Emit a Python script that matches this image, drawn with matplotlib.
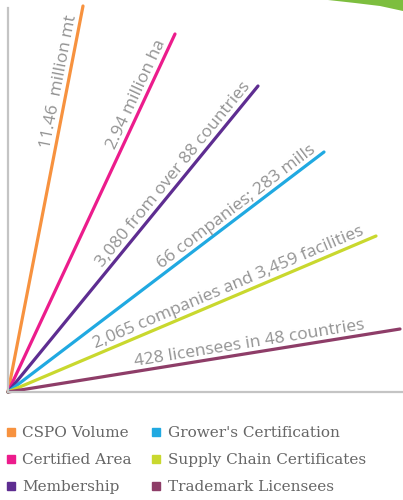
import numpy as np
import matplotlib
matplotlib.use("Agg")
from matplotlib import pyplot as plt
from matplotlib.lines import Line2D
from matplotlib.patches import Polygon

# series: name, colour, end point of each ray (pixel-like units from origin), annotation
names = ["CSPO Volume", "Certified Area", "Membership",
         "Grower's Certification", "Supply Chain Certificates", "Trademark Licensees"]
colors = ["#F7923F", "#EC1C8C", "#5E2D91", "#20A9E1", "#C9D82E", "#8E3D68"]
end_x = [75, 167, 250, 316, 368, 392]
end_y = [386, 358, 306, 240, 156, 63]
notes = ["11.46  million mt", "2.94 million ha", "3,080 from over 88 countries",
         "66 companies; 283 mills", "2,065 companies and 3,459 facilities",
         "428 licensees in 48 countries"]
note_pos = [0.80, 0.82, 0.69, 0.74, 0.61, 0.62]

W, H = 403, 500
fig = plt.figure(figsize=(W / 100, H / 100), dpi=100)
# axes placed so one data unit is one pixel
x0, y0 = 8, 392
ax = fig.add_axes([x0 / W, (H - y0) / H, (W - x0) / W, (y0 - 8) / H])
ax.set_xlim(0, W - x0)
ax.set_ylim(0, y0 - 8)

for s in ["top", "right"]:
    ax.spines[s].set_visible(False)
for s in ["left", "bottom"]:
    ax.spines[s].set_color("#C4C4C4")
    ax.spines[s].set_linewidth(1.6)
ax.set_xticks([])
ax.set_yticks([])

for c, ex, ey, note, t in zip(colors, end_x, end_y, notes, note_pos):
    ax.plot([0, ex], [0, ey], color=c, lw=2.3, solid_capstyle="round", clip_on=False)
    ang = np.degrees(np.arctan2(ey, ex))
    ax.annotate(note, xy=(ex * t, ey * t), xytext=(-np.sin(np.radians(ang)) * 4,
                                                   np.cos(np.radians(ang)) * 4),
                textcoords="offset points", rotation=ang, rotation_mode="anchor",
                ha="center", va="baseline", color="#939393", fontsize=12.5,
                family="Open Sans")

# green swoosh in top right corner
swoosh = Polygon([(328 / W, 1), (355 / W, 1 - 3 / H), (380 / W, 1 - 6 / H),
                  (1, 1 - 11 / H), (1, 1)], closed=True, transform=fig.transFigure,
                 color="#7DBE3F", lw=0)
fig.patches.append(swoosh)

handles = [Line2D([], [], marker="s", ls="", color=c, markersize=6) for c in colors]
fig.legend(handles, names, loc="upper left", bbox_to_anchor=(0.0, 1 - 420 / H),
           ncol=2, frameon=False, handlelength=0.6, handletextpad=0.45,
           columnspacing=1.3, labelspacing=0.85, borderaxespad=0,
           prop={"family": "DejaVu Serif", "size": 11}, labelcolor="#666666")

fig.savefig("out.png", dpi=100)
